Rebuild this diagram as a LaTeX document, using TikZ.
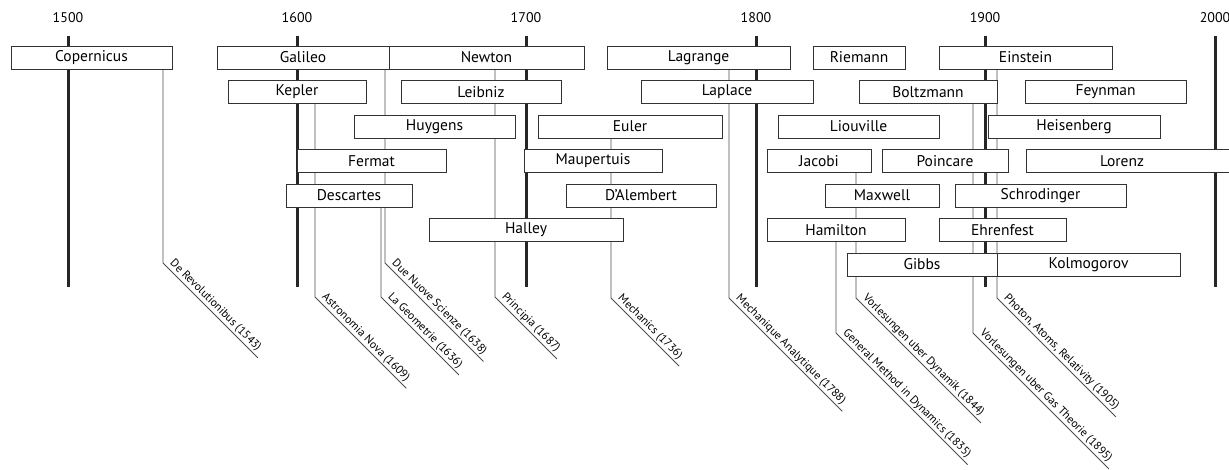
\documentclass[tikz,border=0pt]{standalone}
\usepackage{fontspec}
\setmainfont{PT Sans}
\usepackage{tikz}
\usetikzlibrary{backgrounds}

\begin{document}
\begin{tikzpicture}[
    x=1pt, y=-1pt,
    person/.style={draw=black!80, fill=white, line width=0.9pt, minimum height=23pt,
      inner sep=0pt, font=\fontsize{15.5}{18}\selectfont},
    year/.style={font=\fontsize{14}{16}\selectfont},
    era/.style={draw=black!85, line width=3pt},
    link/.style={draw=black!70, line width=0.9pt},
    booktitle/.style={rotate=-45, anchor=south west, inner xsep=5pt, inner ysep=1.5pt,
      font=\fontsize{11.5}{13}\selectfont}
  ]
    \useasboundingbox (0,0) rectangle (1229,470);
    % centuries
    \foreach \yr/\x in {1500/68,1600/297,1700/526,1800/756,1900/985,2000/1215} {
      \node[year] (y\yr) at (\x,18) {\yr};
      \draw[era] (\x,36) -- (\x,287);
    }
    % people: name/text/left/right/row
    \foreach \nm/\txt/\l/\r/\rw in {
        Copernicus/Copernicus/11/172/1, Galileo/Galileo/217/389/1, Newton/Newton/389/584/1,
        Lagrange/Lagrange/607/790/1, Riemann/Riemann/813/905/1, Einstein/Einstein/939/1112/1,
        Kepler/Kepler/228/366/2, Leibniz/Leibniz/401/561/2, Laplace/Laplace/641/813/2,
        Boltzmann/Boltzmann/859/997/2, Feynman/Feynman/1025/1186/2,
        Huygens/Huygens/354/515/3, Euler/Euler/538/722/3, Liouville/Liouville/778/939/3,
        Heisenberg/Heisenberg/988/1160/3,
        Fermat/Fermat/297/446/4, Maupertuis/Maupertuis/524/662/4, Jacobi/Jacobi/767/871/4,
        Poincare/Poincare/882/1008/4, Lorenz/{\makebox[192pt]{Lorenz}\hspace*{27pt}}/1026/1245/4,
        Descartes/Descartes/286/412/5, DAlembert/D'Alembert/566/716/5, Maxwell/Maxwell/825/939/5,
        Schrodinger/Schrodinger/955/1126/5,
        Halley/Halley/429/623/6, Hamilton/Hamilton/767/905/6, Ehrenfest/Ehrenfest/939/1066/6,
        Gibbs/Gibbs/847/997/7, Kolmogorov/Kolmogorov/997/1180/7} {
      \pgfmathsetmacro\cx{(\l+\r)/2}
      \pgfmathsetmacro\bw{\r-\l}
      \pgfmathsetmacro\cy{57.5+34.5*(\rw-1)}
      \node[person, minimum width=\bw pt] (\nm) at (\cx,\cy) {\txt};
    }
    % works
    \begin{scope}[on background layer]
      \foreach \nm/\x/\yb/\txt in {
          Copernicus/163/263/{De Revolutionibus (1543)},
          Galileo/385/263/{Due Nuove Scienze (1638)},
          Kepler/315/297/{Astronomia Nova (1609)},
          Descartes/381/297/{La Geometrie (1636)},
          Newton/495/297/{Principia (1687)},
          Euler/611/298/{Mechanics (1736)},
          Lagrange/729/298/{Mechanique Analytique (1788)},
          Hamilton/836/333/{General Method in Dynamics (1835)},
          Jacobi/856/298/{Vorlesungen uber Dynamik (1844)},
          Boltzmann/973/333/{Vorlesungen uber Gas Theorie (1895)},
          Einstein/997/298/{Photon, Atoms, Relativity (1905)}} {
        \coordinate (b\nm) at (\x,\yb);
        \node[booktitle] (w\nm) at (b\nm) {\txt};
        \draw[link] (\nm.south -| b\nm) -- (b\nm) -- (w\nm.south east);
      }
    \end{scope}
  \end{tikzpicture}
\end{document}
